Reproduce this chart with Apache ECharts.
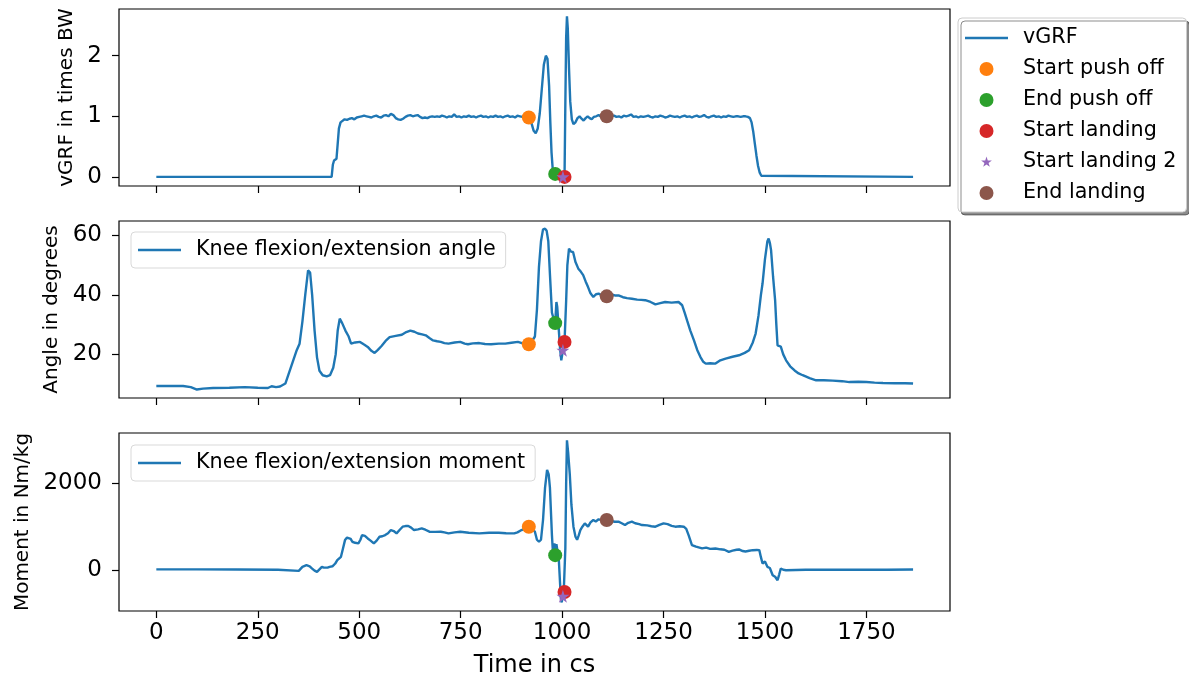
<!DOCTYPE html>
<html>
<head>
<meta charset="utf-8">
<script src="https://cdn.jsdelivr.net/npm/echarts@6/dist/echarts.min.js"></script>
<style>
  html, body { margin: 0; padding: 0; background: #fff; }
  #chart { width: 1189px; height: 680px; }
</style>
</head>
<body>
<div id="chart"></div>
<script>
// ---- vertical ground reaction force (times body weight), [time cs, value] ----
const vgrfSamples = [
  [0,0],[150,0],[300,0],[432,0],[435,0.2],[438,0.27],[441,0.25],[444,0.3],[447,0.55],[450,0.8],
  [454,0.9],[458,0.93],[464,0.95],[470,0.94],[476,0.96],[482,0.97],[488,0.95],[494,0.98],[500,0.99],
  [506,1.0],[512,1.01],[518,1.0],[524,0.99],[530,0.98],[536,1.0],[542,1.01],[548,0.99],[554,0.98],
  [560,1.01],[566,1.02],[572,1.0],[578,1.04],[584,1.02],[590,0.97],[596,0.95],[602,0.94],[608,0.96],
  [614,0.99],[620,1.01],[626,1.02],[632,1.0],[638,1.01],[644,1.02],[650,0.99],[656,0.97],[662,0.98],
  [668,0.97],[674,0.99],[680,1.0],[686,0.99],[692,1.0],[698,0.99],[704,1.01],[710,1.0],[716,0.98],
  [722,1.0],[728,0.99],[734,1.03],[740,0.99],[746,1.0],[752,0.98],[758,1.0],[764,0.99],[770,1.01],
  [776,0.99],[782,1.0],[788,0.98],[794,1.0],[800,1.01],[806,0.99],[812,1.0],[818,0.98],[824,1.0],
  [830,0.99],[836,1.01],[842,0.99],[848,1.0],[854,0.98],[860,1.0],[866,1.01],[872,0.99],[878,1.0],
  [884,0.98],[890,1.01],[896,1.0],[902,0.99],[908,1.01],[913,1.0],[918,0.98],[924,0.9],[930,0.76],
  [935,0.72],[940,0.8],[945,1.05],[950,1.45],[955,1.85],[960,2.0],[964,1.95],[968,1.5],[971,0.9],
  [974,0.4],[977,0.12],[980,0.06],[983,0.05],[988,0.03],[993,0.01],[998,0],[1002,0],[1006,0],
  [1008,1.2],[1010,2.3],[1012,2.65],[1014,2.45],[1017,1.8],[1020,1.25],[1024,0.95],[1028,0.87],
  [1033,0.9],[1038,0.97],[1043,1.0],[1048,0.96],[1053,0.93],[1058,0.97],[1063,1.0],[1068,0.97],
  [1073,0.95],[1078,0.99],[1084,1.0],[1090,1.02],[1096,0.99],[1102,1.0],[1106,1.01],[1110,1.0],
  [1116,0.98],[1122,1.0],[1128,1.01],[1134,0.99],[1140,1.0],[1146,0.98],[1152,1.01],[1158,1.0],
  [1164,1.01],[1170,1.03],[1176,0.99],[1182,1.0],[1188,0.98],[1194,1.0],[1200,0.99],[1206,1.0],
  [1212,1.01],[1218,0.99],[1224,0.98],[1230,1.0],[1236,0.99],[1242,1.01],[1248,1.0],[1254,0.98],
  [1260,0.99],[1266,1.01],[1272,1.0],[1278,0.99],[1284,1.0],[1290,0.98],[1296,1.0],[1302,1.01],
  [1308,0.99],[1314,1.0],[1320,0.98],[1326,1.0],[1332,1.01],[1338,0.99],[1344,1.0],[1350,1.02],
  [1356,0.99],[1362,0.98],[1368,1.0],[1374,1.01],[1380,0.99],[1386,1.0],[1392,0.98],[1398,1.0],
  [1404,0.99],[1410,1.01],[1416,1.0],[1422,0.99],[1428,1.0],[1434,1.0],[1440,0.99],[1446,1.0],
  [1452,1.0],[1458,0.99],[1463,0.97],[1467,0.9],[1471,0.75],[1475,0.55],[1479,0.35],[1483,0.18],
  [1487,0.07],[1491,0.02],[1495,0],[1865,0]
];

// ---- knee flexion/extension angle (degrees) ----
const angleSamples = [
  [0,9.4],[30,9.4],[66,9.4],[85,9.0],[100,8.2],[115,8.5],[140,8.7],[180,8.8],[218,9.0],[250,8.8],
  [275,8.7],[284,9.3],[295,9.0],[305,9.2],[318,10.2],[332,15.8],[346,21.4],[353,23.6],[360,31],
  [367,40],[374,48.2],[379,47.5],[384,40],[390,28],[396,19],[402,14.5],[410,13],[420,12.6],[428,13],
  [436,15.5],[442,20],[447,28],[452,32],[458,30.5],[466,28],[474,26],[480,23.6],[490,24],[502,24.2],
  [512,23.3],[521,22.5],[530,21.2],[538,20.5],[546,21.5],[555,22.8],[565,24.5],[575,25.8],[590,26.2],
  [605,26.6],[616,27.5],[626,28],[636,27.6],[645,27],[655,26.7],[664,26.4],[673,25.5],[682,24.7],
  [692,24.4],[701,24.2],[710,23.8],[720,23.6],[735,24],[749,24.2],[760,23.6],[768,23.4],[780,23.7],
  [796,23.8],[810,23.5],[825,23.4],[844,23.6],[860,23.6],[875,23.9],[891,24.2],[905,23.6],[918,23.4],
  [926,24.5],[933,26],[938,35],[943,49.4],[948,58],[953,62],[958,62.2],[962,61.5],[966,58],[970,47],
  [975,34],[979,32],[983,30.5],[986,37.6],[988,36],[991,30],[995,22],[998,18],[1002,21.4],[1006,24.2],
  [1010,38],[1013,50],[1017,55.5],[1022,54.5],[1027,54.4],[1033,51],[1040,48.8],[1046,47.8],
  [1052,46.6],[1058,44.5],[1064,42.6],[1070,40.5],[1077,39.3],[1084,40.2],[1090,40.4],[1098,39.8],
  [1106,39.6],[1110,39.5],[1120,40.2],[1130,39.8],[1139,39.8],[1150,39.2],[1160,38.9],[1172,38.7],
  [1185,38.4],[1195,38.3],[1205,38.2],[1218,37.6],[1230,36.8],[1242,37.2],[1254,37.6],[1270,37.4],
  [1287,37.6],[1296,36.5],[1302,34],[1308,31.4],[1316,28],[1325,24.7],[1333,21.5],[1341,19.1],
  [1348,17.5],[1354,16.9],[1365,17],[1378,16.9],[1390,18],[1403,18.6],[1420,19.2],[1436,19.7],
  [1450,20.5],[1461,21.4],[1470,24],[1477,27],[1484,33],[1490,40],[1494,43.8],[1500,52],[1506,58],
  [1509,58.9],[1512,57.5],[1515,55],[1520,46],[1525,38.2],[1528,30],[1531,23],[1535,22.5],
  [1539,22.6],[1545,20],[1552,18],[1562,16],[1573,14.6],[1583,13.6],[1593,13],[1610,12],[1626,11.3],
  [1645,11.3],[1667,11.2],[1690,11],[1708,10.7],[1730,10.8],[1750,10.7],[1770,10.5],[1791,10.4],
  [1820,10.3],[1845,10.3],[1865,10.2]
];

// ---- knee flexion/extension moment (Nm/kg) ----
const momentSamples = [
  [0,20],[100,20],[200,15],[300,10],[351,-15],[360,77],[370,115],[378,90],[384,38],[390,-10],
  [396,-38],[402,20],[408,77],[413,60],[417,38],[422,60],[427,77],[434,90],[441,154],[446,230],
  [450,200],[455,308],[460,500],[465,692],[470,750],[474,770],[479,720],[483,654],[490,630],[498,615],
  [503,700],[507,808],[514,790],[521,730],[528,680],[536,615],[543,680],[550,770],[557,780],[564,808],
  [571,850],[578,923],[585,900],[592,846],[600,930],[607,1000],[614,1015],[621,1015],[628,980],
  [635,923],[645,940],[654,962],[663,930],[673,885],[687,880],[701,885],[710,870],[720,846],[735,870],
  [749,885],[770,860],[796,846],[820,860],[844,862],[862,850],[882,846],[890,870],[900,923],[910,960],
  [918,1000],[925,950],[933,885],[938,700],[943,654],[948,700],[953,1154],[958,1900],[963,2308],
  [967,2200],[970,1900],[975,800],[978,308],[981,615],[983,346],[986,600],[989,420],[992,231],
  [995,-300],[997,-654],[999,-740],[1002,-600],[1004,-520],[1006,-500],[1008,500],[1010,2000],
  [1012,2985],[1015,2700],[1019,2200],[1023,1500],[1028,1000],[1033,769],[1037,700],[1041,800],
  [1045,923],[1050,1000],[1056,1077],[1060,1050],[1064,1000],[1070,1100],[1077,1154],[1083,1120],
  [1090,1170],[1098,1150],[1104,1190],[1110,1154],[1120,1130],[1130,1115],[1139,1115],[1147,1080],
  [1155,1038],[1163,1090],[1172,1115],[1180,1080],[1190,1060],[1197,1038],[1210,1030],[1220,1010],
  [1230,1000],[1240,1040],[1250,1077],[1260,1060],[1270,1020],[1279,1000],[1290,1010],[1300,1000],
  [1306,950],[1312,800],[1320,577],[1330,540],[1345,500],[1355,520],[1365,490],[1378,500],[1390,480],
  [1400,470],[1411,423],[1420,450],[1430,470],[1436,477],[1445,440],[1452,430],[1461,446],[1470,460],
  [1480,465],[1486,462],[1490,300],[1494,154],[1500,200],[1506,77],[1512,50],[1519,-115],[1525,-150],
  [1531,-231],[1535,-100],[1539,38],[1545,10],[1552,0],[1600,10],[1700,12],[1800,12],[1865,15]
];

// ---- detected events (shared time, value in each panel) ----
const eventNames = ['Start push off', 'End push off', 'Start landing', 'Start landing 2', 'End landing'];
const eventColors = ['#ff7f0e', '#2ca02c', '#d62728', '#9467bd', '#8c564b'];
const eventTime = [918, 983, 1006, 1002, 1110];
const eventVgrf = [0.98, 0.05, 0, 0, 1.0];
const eventAngle = [23.4, 30.5, 24.2, 21.4, 39.5];
const eventMoment = [1000, 346, -500, -600, 1154];

// ---- axis ticks ----
const xTicks = [0, 250, 500, 750, 1000, 1250, 1500, 1750];
const vgrfTicks = [0, 1, 2];
const angleTicks = [20, 40, 60];
const momentTicks = [0, 2000];

const FONT = 'DejaVu Sans';
const BLUE = '#1f77b4';
const STAR = 'path://M50,0 L61.2,34.5 L97.6,34.5 L68.2,55.9 L79.4,90.5 L50,69.1 L20.6,90.5 L31.8,55.9 L2.4,34.5 L38.8,34.5 Z';
// same star with empty margin so the legend key comes out a little smaller than the circles
const STAR_KEY = 'path://M-12,-14 M112,110 M50,0 L61.2,34.5 L97.6,34.5 L68.2,55.9 L79.4,90.5 L50,69.1 L20.6,90.5 L31.8,55.9 L2.4,34.5 L38.8,34.5 Z';
const LINE_KEY = 'path://M0,0 H43 V2.4 H0 Z';

const grids = [
  { left: 119, right: 239, top: 9, height: 177 },
  { left: 119, right: 239, top: 221, height: 177 },
  { left: 119, right: 239, top: 433, height: 178 }
].map(g => Object.assign({ show: true, borderColor: '#000', borderWidth: 1.2, backgroundColor: '#fff' }, g));

const tickLine = { color: '#000', width: 1.2 };
const plain = v => String(v);

const xAxes = [0, 1, 2].map(i => ({
  type: 'value', gridIndex: i, min: -92, max: 1956,
  axisLine: { show: false, onZero: false },
  splitLine: { show: false },
  axisTick: { show: true, customValues: xTicks, length: 7, lineStyle: tickLine },
  axisLabel: { show: i === 2, customValues: xTicks, formatter: plain, margin: 11, fontSize: 23, fontFamily: FONT, color: '#000' },
  name: i === 2 ? 'Time in cs' : '',
  nameLocation: 'middle', nameGap: 43,
  nameTextStyle: { fontSize: 24, fontFamily: FONT, color: '#000' }
}));

function yAxis(i, min, max, ticks, name, gap) {
  return {
    type: 'value', gridIndex: i, min: min, max: max,
    axisLine: { show: false, onZero: false },
    splitLine: { show: false },
    axisTick: { show: true, customValues: ticks, length: 7, lineStyle: tickLine },
    axisLabel: { customValues: ticks, formatter: plain, margin: 17, fontSize: 23, fontFamily: FONT, color: '#000' },
    name: name, nameLocation: 'middle', nameGap: gap,
    nameTextStyle: { fontSize: 20, fontFamily: FONT, color: '#000' }
  };
}

const lineSeries = (name, idx, data) => ({
  name: name, type: 'line', xAxisIndex: idx, yAxisIndex: idx, data: data,
  symbol: 'none', lineStyle: { color: BLUE, width: 2.4 }, itemStyle: { color: BLUE }, z: 2
});

const series = [
  lineSeries('vGRF', 0, vgrfSamples),
  lineSeries('Knee flexion/extension angle', 1, angleSamples),
  lineSeries('Knee flexion/extension moment', 2, momentSamples)
];

[eventVgrf, eventAngle, eventMoment].forEach((vals, p) => {
  eventNames.forEach((name, k) => {
    const isStar = name === 'Start landing 2';
    series.push({
      name: name, type: 'scatter', xAxisIndex: p, yAxisIndex: p,
      data: [[eventTime[k], vals[k]]],
      symbol: isStar ? STAR : 'circle',
      symbolSize: isStar ? 13 : 14,
      itemStyle: { color: eventColors[k], opacity: 1 },
      z: 3 + k
    });
  });
});

const legendText = { fontSize: 20.7, lineHeight: 22, fontFamily: FONT, color: '#000', padding: [0, 0, 0, 10] };
const boxLegend = {
  itemWidth: 43, itemHeight: 14,
  textStyle: legendText,
  padding: [7, 10, 7, 7],
  backgroundColor: 'rgba(255,255,255,0.8)', borderColor: '#d9d9d9', borderWidth: 1, borderRadius: 4,
  selectedMode: false
};

const option = {
  animation: false,
  backgroundColor: '#fff',
  grid: grids,
  xAxis: xAxes,
  yAxis: [
    yAxis(0, -0.15, 2.77, vgrfTicks, 'vGRF in times BW', 32),
    yAxis(1, 5.35, 64.8, angleTicks, 'Angle in degrees', 55),
    yAxis(2, -938, 3154, momentTicks, 'Moment in Nm/kg', 81)
  ],
  legend: [
    {
      data: [{ name: 'vGRF', icon: LINE_KEY }].concat(eventNames.map(n =>
        n === 'Start landing 2' ? { name: n, icon: STAR_KEY } : { name: n, icon: 'circle' })),
      orient: 'vertical', left: 958, top: 18,
      itemWidth: 43, itemHeight: 14, itemGap: 9,
      textStyle: legendText,
      padding: [9, 10, 8, 7],
      backgroundColor: '#fff', borderColor: '#cccccc', borderWidth: 1, borderRadius: 4,
      shadowColor: 'rgba(0,0,0,0.45)', shadowOffsetX: 3, shadowOffsetY: 3, shadowBlur: 0,
      selectedMode: false
    },
    Object.assign({}, boxLegend, {
      data: [{ name: 'Knee flexion/extension angle', icon: LINE_KEY }], left: 131, top: 232
    }),
    Object.assign({}, boxLegend, {
      data: [{ name: 'Knee flexion/extension moment', icon: LINE_KEY }], left: 131, top: 445
    })
  ],
  series: series
};

const chart = echarts.init(document.getElementById('chart'), null, { renderer: 'canvas' });
chart.setOption(option);
</script>
</body>
</html>
